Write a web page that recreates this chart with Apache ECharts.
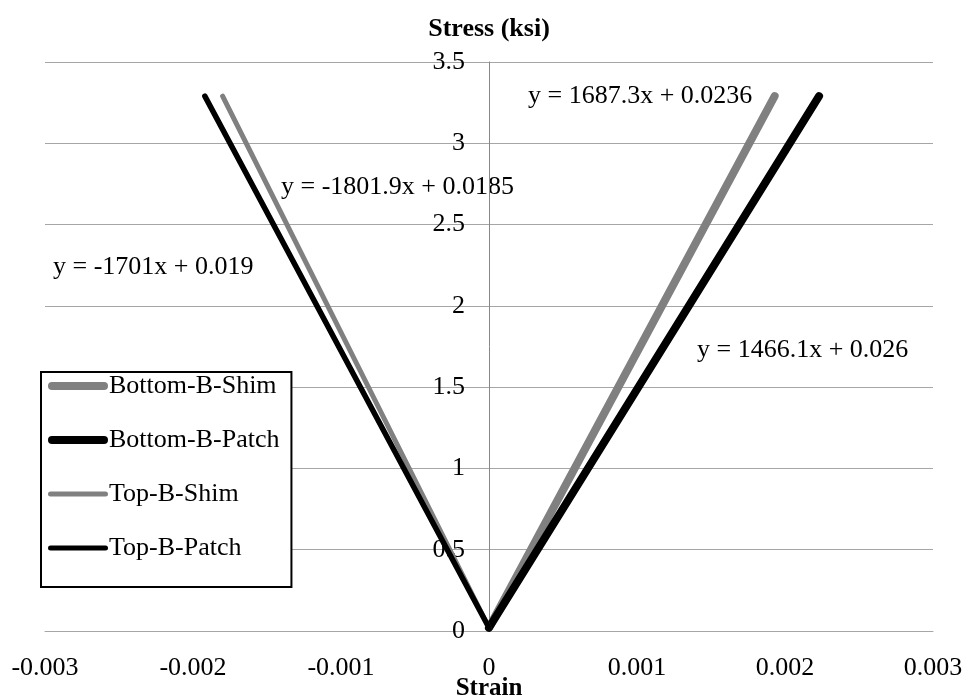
<!DOCTYPE html>
<html>
<head>
<meta charset="utf-8">
<script src="https://cdn.jsdelivr.net/npm/echarts@6/dist/echarts.min.js"></script>
<style>
  html, body { margin: 0; padding: 0; background: #fff; }
  #chart { width: 962px; height: 696px; }
</style>
</head>
<body>
<div id="chart"></div>
<script>
// Strain gauge readings (strain, stress in ksi) for each gauge
const seriesNames = ['Bottom-B-Shim', 'Bottom-B-Patch', 'Top-B-Shim', 'Top-B-Patch'];
const bottomShim  = [[0, 0.02], [0.00193, 3.29]];
const bottomPatch = [[0, 0.02], [0.00223, 3.29]];
const topShim     = [[0, 0.02], [-0.00180, 3.29]];
const topPatch    = [[0, 0.02], [-0.00192, 3.29]];

// Linear trendline equations written beside each gauge line
const trendLabels = [
  { text: 'y = 1687.3x + 0.0236', x: 528, y: 96 },
  { text: 'y = -1801.9x + 0.0185', x: 281, y: 187 },
  { text: 'y = -1701x + 0.019', x: 53, y: 267 },
  { text: 'y = 1466.1x + 0.026', x: 697, y: 350 }
];

const xTicks = { min: -0.003, max: 0.003, interval: 0.001 };
const yTicks = { min: 0, max: 3.5, interval: 0.5 };

const FONT = '"Liberation Serif", "Times New Roman", serif';
const FS = 26;
const GRAY = '#808080';
const GRID = { left: 45, right: 29, top: 62, bottom: 65 };

// Rounded bar icons for the legend (thick for bottom gauges, thin for top)
const thickIcon = 'path://M4,0 H56 A4,4 0 0 1 56,8 H4 A4,4 0 0 1 4,0 Z';
const thinIcon  = 'path://M2.5,0 H57.5 A2.5,2.5 0 0 1 57.5,5 H2.5 A2.5,2.5 0 0 1 2.5,0 Z';

const chart = echarts.init(document.getElementById('chart'), null, { renderer: 'canvas' });

function lineSeries(name, data, color, width) {
  return {
    name: name,
    type: 'line',
    data: data,
    showSymbol: false,
    symbol: 'none',
    lineStyle: { color: color, width: width, cap: 'round', join: 'round' },
    itemStyle: { color: color },
    silent: true,
    animation: false
  };
}

chart.setOption({
  animation: false,
  textStyle: { fontFamily: FONT },
  grid: Object.assign({ containLabel: false, outerBoundsMode: 'none' }, GRID),
  xAxis: {
    type: 'value',
    min: xTicks.min, max: xTicks.max, interval: xTicks.interval,
    name: 'Strain',
    nameLocation: 'middle',
    nameGap: 45,
    nameMoveOverlap: false,
    nameTextStyle: { fontFamily: FONT, fontSize: 25, fontWeight: 'bold', color: '#000', verticalAlign: 'top' },
    axisLine: { show: true, onZero: false, lineStyle: { color: '#a6a6a6', width: 1 } },
    axisTick: { show: false },
    splitLine: { show: false },
    axisLabel: {
      margin: 24, fontFamily: FONT, fontSize: FS, color: '#000',
      formatter: v => (Math.abs(v) < 1e-12 ? '0' : String(+v.toFixed(3)))
    }
  },
  yAxis: {
    type: 'value',
    min: yTicks.min, max: yTicks.max, interval: yTicks.interval,
    name: 'Stress (ksi)',
    nameLocation: 'end',
    nameGap: 20,
    nameMoveOverlap: false,
    nameTextStyle: { fontFamily: FONT, fontSize: FS, fontWeight: 'bold', color: '#000', align: 'center' },
    axisLine: { show: true, onZero: false, lineStyle: { color: '#888', width: 1 } },
    axisTick: { show: false },
    splitLine: { show: true, lineStyle: { color: '#a6a6a6', width: 1 } },
    axisLabel: {
      margin: 24, fontFamily: FONT, fontSize: FS, color: '#000',
      formatter: v => String(+v.toFixed(1))
    }
  },
  legend: {
    orient: 'vertical',
    left: 41, top: 372,
    padding: [1, 12, 26, 7],
    itemWidth: 60, itemHeight: 8,
    itemGap: 28,
    backgroundColor: '#fff',
    borderColor: '#000', borderWidth: 2,
    textStyle: { fontFamily: FONT, fontSize: FS, color: '#000', padding: [0, 0, 0, -4] },
    data: [
      { name: seriesNames[0], icon: thickIcon, itemStyle: { color: GRAY } },
      { name: seriesNames[1], icon: thickIcon, itemStyle: { color: '#000' } },
      { name: seriesNames[2], icon: thinIcon, itemStyle: { color: GRAY } },
      { name: seriesNames[3], icon: thinIcon, itemStyle: { color: '#000' } }
    ]
  },
  graphic: trendLabels.map(t => ({
    type: 'text',
    left: t.x, top: t.y - FS / 2,
    style: { text: t.text, font: FS + 'px ' + FONT, fill: '#000' },
    silent: true
  })),
  series: [
    lineSeries(seriesNames[0], bottomShim, GRAY, 8),
    lineSeries(seriesNames[1], bottomPatch, '#000', 8),
    lineSeries(seriesNames[2], topShim, GRAY, 5),
    lineSeries(seriesNames[3], topPatch, '#000', 5.5)
  ]
});

// Move the stress axis (line, labels and name) onto strain = 0
const zeroX = chart.convertToPixel({ xAxisIndex: 0 }, 0);
chart.setOption({ yAxis: { offset: -(zeroX - GRID.left) } });
</script>
</body>
</html>
